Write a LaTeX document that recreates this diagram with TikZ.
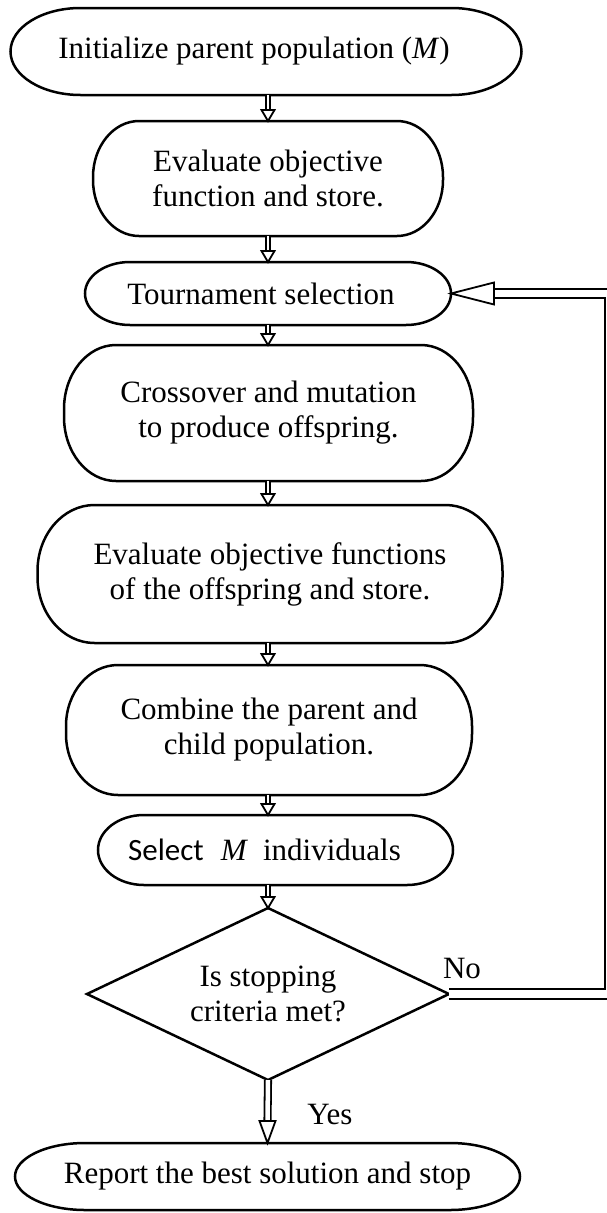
\documentclass[tikz,border=0pt]{standalone}
\usepackage{fontspec}
\setmainfont{Liberation Serif}
\newfontfamily\selfont{Carlito}
\usetikzlibrary{calc}

\tikzset{
  box/.style={shape=rectangle, draw=none, inner sep=0pt, outer sep=0pt,
    align=center, font=\fontsize{31}{35}\selectfont},
  outline/.style={draw=black, line width=2.5pt},
  dshaft/.style={draw=black, double=white, double distance=2.4pt, line width=1.8pt},
  yshaft/.style={draw=black, double=white, double distance=4.5pt, line width=1.8pt},
  wshaft/.style={draw=black, double=white, double distance=7.5pt, line width=2.2pt},
  tiphead/.style={draw=black, fill=white, line width=1.8pt, line join=miter},
  lbl/.style={inner sep=0pt, font=\fontsize{31}{35}\selectfont}
}

% terminal / process outline with elliptical corners: node, x radius, y radius
\newcommand\termoutline[3]{%
  \draw[outline] ([xshift=#2]#1.north west) -- ([xshift=-#2]#1.north east)
    arc[start angle=90, end angle=0, x radius=#2, y radius=#3]
    -- ([yshift=#3]#1.south east)
    arc[start angle=0, end angle=-90, x radius=#2, y radius=#3]
    -- ([xshift=#2]#1.south west)
    arc[start angle=270, end angle=180, x radius=#2, y radius=#3]
    -- ([yshift=-#3]#1.north west)
    arc[start angle=180, end angle=90, x radius=#2, y radius=#3]
    -- cycle;}

% downward double arrow: start, tip, head length, head half width, shaft style
\newcommand\flowarrow[5]{%
  \draw[#5] (#1) -- ([yshift=#3]#2);
  \draw[tiphead] (#2) -- ++(-#4,#3) -- ++(2*#4,0) -- cycle;}

\begin{document}
\begin{tikzpicture}[x=1pt, y=1pt]
\useasboundingbox (0,0) rectangle (607,-1213);

\node[box, minimum width=511pt, minimum height=87pt] (init) at (266,-51.5)
  {\hspace*{-24pt}Initialize parent population (\textit{M})};
\node[box, minimum width=350pt, minimum height=115pt] (eval1) at (268,-178.5)
  {Evaluate objective\\function and store.};
\node[box, minimum width=366pt, minimum height=63pt] (tour) at (268,-293.5)
  {\hspace*{-14pt}Tournament selection};
\node[box, minimum width=409pt, minimum height=136pt] (cross) at (268.5,-413)
  {Crossover and mutation\\to produce offspring.};
\node[box, minimum width=465pt, minimum height=138pt] (eval2) at (270,-574)
  {Evaluate objective functions\\of the offspring and store.};
\node[box, minimum width=406pt, minimum height=130pt] (comb) at (269,-730)
  {Combine the parent and\\child population.};
\node[box, minimum width=355pt, minimum height=70pt] (sel) at (275.5,-850)
  {\hspace*{-22pt}{\selfont Select}\hspace{17pt}\textit{M}\hspace{15pt}individuals};
\node[box, minimum width=362pt, minimum height=172pt] (stop) at (268,-994)
  {Is stopping\\criteria met?};
\node[box, minimum width=505pt, minimum height=67pt] (final) at (267.5,-1176.5)
  {Report the best solution and stop};

\termoutline{init}{70pt}{43.5pt}
\termoutline{eval1}{46pt}{56pt}
\termoutline{tour}{45pt}{31.5pt}
\termoutline{cross}{52pt}{64pt}
\termoutline{eval2}{57pt}{66pt}
\termoutline{comb}{52pt}{61pt}
\termoutline{sel}{46pt}{35pt}
\termoutline{final}{70pt}{33.5pt}
\draw[outline, line join=miter] (stop.north) -- (stop.east) -- (stop.south)
  -- (stop.west) -- cycle;

% main flow
\flowarrow{init.south -| stop.north}{eval1.north -| stop.north}{11pt}{6.5pt}{dshaft}
\flowarrow{eval1.south -| stop.north}{tour.north -| stop.north}{11pt}{6.5pt}{dshaft}
\flowarrow{tour.south -| stop.north}{cross.north -| stop.north}{11pt}{6.5pt}{dshaft}
\flowarrow{cross.south -| stop.north}{eval2.north -| stop.north}{11pt}{6.5pt}{dshaft}
\flowarrow{eval2.south -| stop.north}{comb.north -| stop.north}{11pt}{6.5pt}{dshaft}
\flowarrow{comb.south -| stop.north}{sel.north -| stop.north}{11pt}{6.5pt}{dshaft}
\flowarrow{sel.south -| stop.north}{stop.north}{11pt}{6.5pt}{dshaft}
\flowarrow{stop.south}{final.north}{22pt}{8pt}{yshaft}

% loop back when the criteria are not met
\coordinate (loopbr) at (609.75,-994);
\coordinate (looptr) at (609.75,-293.5);
\draw[wshaft] (stop.east) -- (loopbr) -- (looptr) -- ([xshift=43pt]tour.east);
\draw[tiphead] (tour.east) -- ++(43pt,11pt) -- ++(0,-22pt) -- cycle;

\node[lbl] (no) at (462,-968) {No};
\node[lbl] (yes) at (330,-1114) {Yes};
\end{tikzpicture}
\end{document}
